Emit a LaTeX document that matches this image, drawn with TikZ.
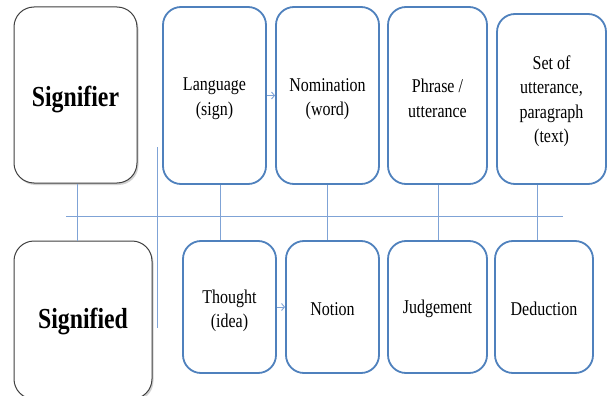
\documentclass[tikz,border=0pt]{standalone}
\usepackage{fontspec}
\setmainfont{Liberation Serif}[FakeStretch=0.82]
\usetikzlibrary{arrows.meta,shadows}
\definecolor{boxblue}{HTML}{4F81BD}
\definecolor{lineblue}{HTML}{7FA3D6}
\definecolor{darkbox}{HTML}{404040}
\newcommand{\tstrutx}[1]{\rule{0pt}{#1}}
\begin{document}
\begin{tikzpicture}[x=1pt,y=-1pt,
  bluebox/.style={draw=boxblue,line width=1.8pt,rounded corners=18pt,fill=white,
    align=center,inner sep=0pt,font=\fontsize{19.5}{24.3}\selectfont},
  mainbox/.style={draw=darkbox,line width=1pt,rounded corners=20pt,fill=white,
    align=center,inner sep=0pt,font=\fontsize{29}{34}\selectfont\bfseries,
    drop shadow={opacity=0.35,shadow xshift=1.5pt,shadow yshift=-2pt}},
  link/.style={draw=lineblue,line width=0.9pt},
  flow/.style={draw=lineblue,line width=0.9pt,-{Straight Barb[length=3pt,width=7pt]}}]
\useasboundingbox (0,0) rectangle (608,396);
\fill[white] (0,0) rectangle (608,396);
\coordinate (hl) at (66,216);
\coordinate (hr) at (563,216);
\coordinate (vt) at (157,147);
\coordinate (vb) at (157,328);
\coordinate (x0) at (77,0);
\coordinate (x1) at (220,0);
\coordinate (x2) at (327,0);
\coordinate (x3) at (438,0);
\coordinate (x4) at (537,0);
% main boxes
\node[mainbox,minimum width=123pt,minimum height=176pt] (sr) at (75.5,95) {\tstrutx{30pt}Signifier};
\node[mainbox,minimum width=138pt,minimum height=158pt] (sd) at (83,320) {\tstrutx{24pt}Signified};
% top row
\node[bluebox,minimum width=103pt,minimum height=177pt] (lang) at (214.5,95.5) {\tstrutx{19.5pt}Language\\(sign)};
\node[bluebox,minimum width=103pt,minimum height=177pt] (nom) at (327.5,95.5) {\tstrutx{19.5pt}Nomination\\(word)};
\node[bluebox,minimum width=99pt,minimum height=177pt] (phr) at (437.5,95.5) {\tstrutx{19pt}Phrase /\\utterance};
\node[bluebox,minimum width=109pt,minimum height=170pt] (set) at (551.5,99) {\tstrutx{18pt}Set of\\utterance,\\paragraph\\(text)};
% bottom row
\node[bluebox,minimum width=93pt,minimum height=132pt] (tho) at (229.5,307) {\tstrutx{21pt}Thought\\(idea)};
\node[bluebox,minimum width=93pt,minimum height=132pt] (notn) at (332.5,307) {\tstrutx{18pt}Notion};
\node[bluebox,minimum width=99pt,minimum height=132pt] (jud) at (437.5,307) {\tstrutx{18pt}Judgement};
\node[bluebox,minimum width=98pt,minimum height=132pt] (ded) at (544,307) {\tstrutx{18pt}Deduction};
% lines
\draw[link] (hl) -- (hr);
\draw[link] (vt) -- (vb);
\draw[link] (sr.south -| x0) -- (sd.north -| x0);
\draw[link] (lang.south -| x1) -- (tho.north -| x1);
\draw[link] (nom.south -| x2) -- (notn.north -| x2);
\draw[link] (phr.south -| x3) -- (jud.north -| x3);
\draw[link] (set.south -| x4) -- (ded.north -| x4);
\draw[flow] (lang.east) -- (nom.west);
\draw[flow] (tho.east) -- (notn.west);
\end{tikzpicture}
\end{document}
